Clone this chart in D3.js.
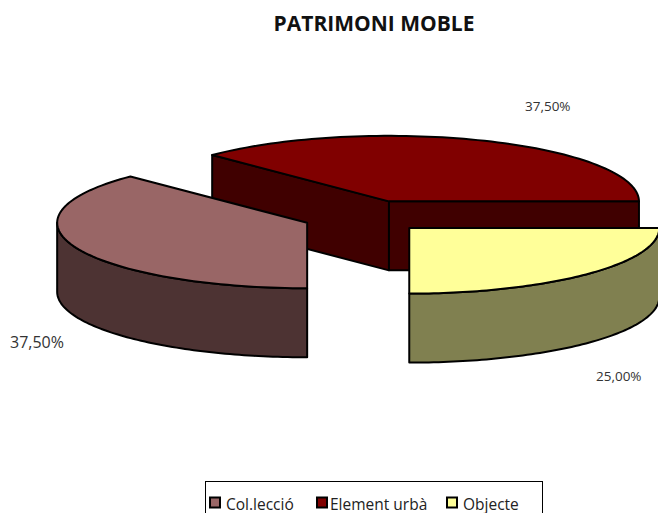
<!DOCTYPE html>
<html><head><meta charset="utf-8">
<script src="https://cdn.jsdelivr.net/npm/d3@7/dist/d3.min.js"></script>
<style>html,body{margin:0;padding:0;background:#fff}svg{display:block}text{font-family:"Open Sans",sans-serif}</style>
</head><body><svg id="c" width="658" height="513"></svg>
<script>
const categories = ["Col.lecció", "Element urbà", "Objecte"];
const values = [37.5, 37.5, 25];
const labels = ["37,50%", "37,50%", "25,00%"];
const topColors = ["#996666", "#800000", "#FFFF99"];
const sideColors = ["#4D3333", "#400000", "#808050"];

const W = 658, H = 513;
const svg = d3.select("#c");
const cx = 365, cy = 216.5, rx = 250, ry = 65.5, depth = 69, explode = 62.6;
const sx = d3.scaleLinear().domain([-1, 1]).range([cx - rx, cx + rx]);
const sy = d3.scaleLinear().domain([-1, 1]).range([cy - ry, cy + ry]);
const pie = d3.pie().sort(null).value(d => d).startAngle(Math.PI).endAngle(3 * Math.PI);
const arcs = pie(values);
const line = d3.line().x(d => d[0]).y(d => d[1]);

// unit-circle pos at clockwise-from-north angle
const unit = a => [Math.sin(a), -Math.cos(a)];
const geo = arcs.map(p => {
  const mid = (p.startAngle + p.endAngle) / 2;
  const [ex, ey] = unit(mid);
  const off = explode / rx;
  const pt = (a, r = 1, dz = 0) => {
    const [u, v] = unit(a);
    return [sx(u * r + ex * off), sy(v * r + ey * off) + dz];
  };
  return { p, pt };
});

function rim(g, a0, a1, dz) {
  const n = 80;
  return d3.range(n + 1).map(i => g.pt(a0 + (a1 - a0) * i / n, 1, dz));
}
const style = s => s.attr("stroke", "#000").attr("stroke-width", 2).attr("stroke-linejoin", "round");

// paint order: back slice, then left, then right
[1, 0, 2].forEach(i => {
  const g = geo[i], a0 = g.p.startAngle, a1 = g.p.endAngle;
  const G = svg.append("g");
  if (i === 1) {
    // cut faces visible on the back slice
    const apex = g.pt(0, 0), apexB = g.pt(0, 0, depth);
    const f1 = g.pt(a0), f1B = g.pt(a0, 1, depth);
    const f2 = g.pt(a1), f2B = g.pt(a1, 1, depth);
    G.append("path").attr("d", line([apex, f1, f1B, apexB]) + "Z").attr("fill", sideColors[i]).call(style);
    G.append("path").attr("d", line([apex, f2, f2B, apexB]) + "Z").attr("fill", sideColors[i]).call(style);
  } else {
    // outer wall: only the part of the rim facing the viewer
    const w0 = Math.max(a0, Math.PI * (a0 >= Math.PI ? 1 : 0.5));
    const w1 = i === 0 ? Math.PI * 1.5 : a1 <= 3 * Math.PI ? 3 * Math.PI : a1;
    const from = i === 0 ? Math.PI : 2.5 * Math.PI;
    const pts = rim(g, from, w1, 0).concat(rim(g, w1, from, depth));
    G.append("path").attr("d", line(pts) + "Z").attr("fill", sideColors[i]).call(style);
  }
  const top = [g.pt(0, 0)].concat(rim(g, a0, a1, 0));
  G.append("path").attr("d", line(top) + "Z").attr("fill", topColors[i]).call(style);
});

svg.append("text").attr("x", 374).attr("y", 31).attr("text-anchor", "middle")
  .attr("font-size", 21).attr("font-weight", 700).attr("fill", "#111").text("PATRIMONI MOBLE");

const labelPos = [[10, 348, 16], [525, 111, 13.5], [596, 381, 13.5]];
labels.forEach((t, i) => svg.append("text").attr("x", labelPos[i][0]).attr("y", labelPos[i][1])
  .attr("font-size", labelPos[i][2]).attr("fill", "#333").text(t));

// legend
svg.append("rect").attr("x", 205.5).attr("y", 481.5).attr("width", 337).attr("height", 40)
  .attr("fill", "#fff").attr("stroke", "#000");
const keyX = [210, 317, 447], textX = [226, 330, 463];
categories.forEach((c, i) => {
  svg.append("rect").attr("x", keyX[i]).attr("y", 497.5).attr("width", 10).attr("height", 10)
    .attr("fill", topColors[i]).attr("stroke", "#000").attr("stroke-width", 2);
  svg.append("text").attr("x", textX[i]).attr("y", 510).attr("font-size", 15.5).attr("fill", "#222").text(c);
});
</script></body></html>
